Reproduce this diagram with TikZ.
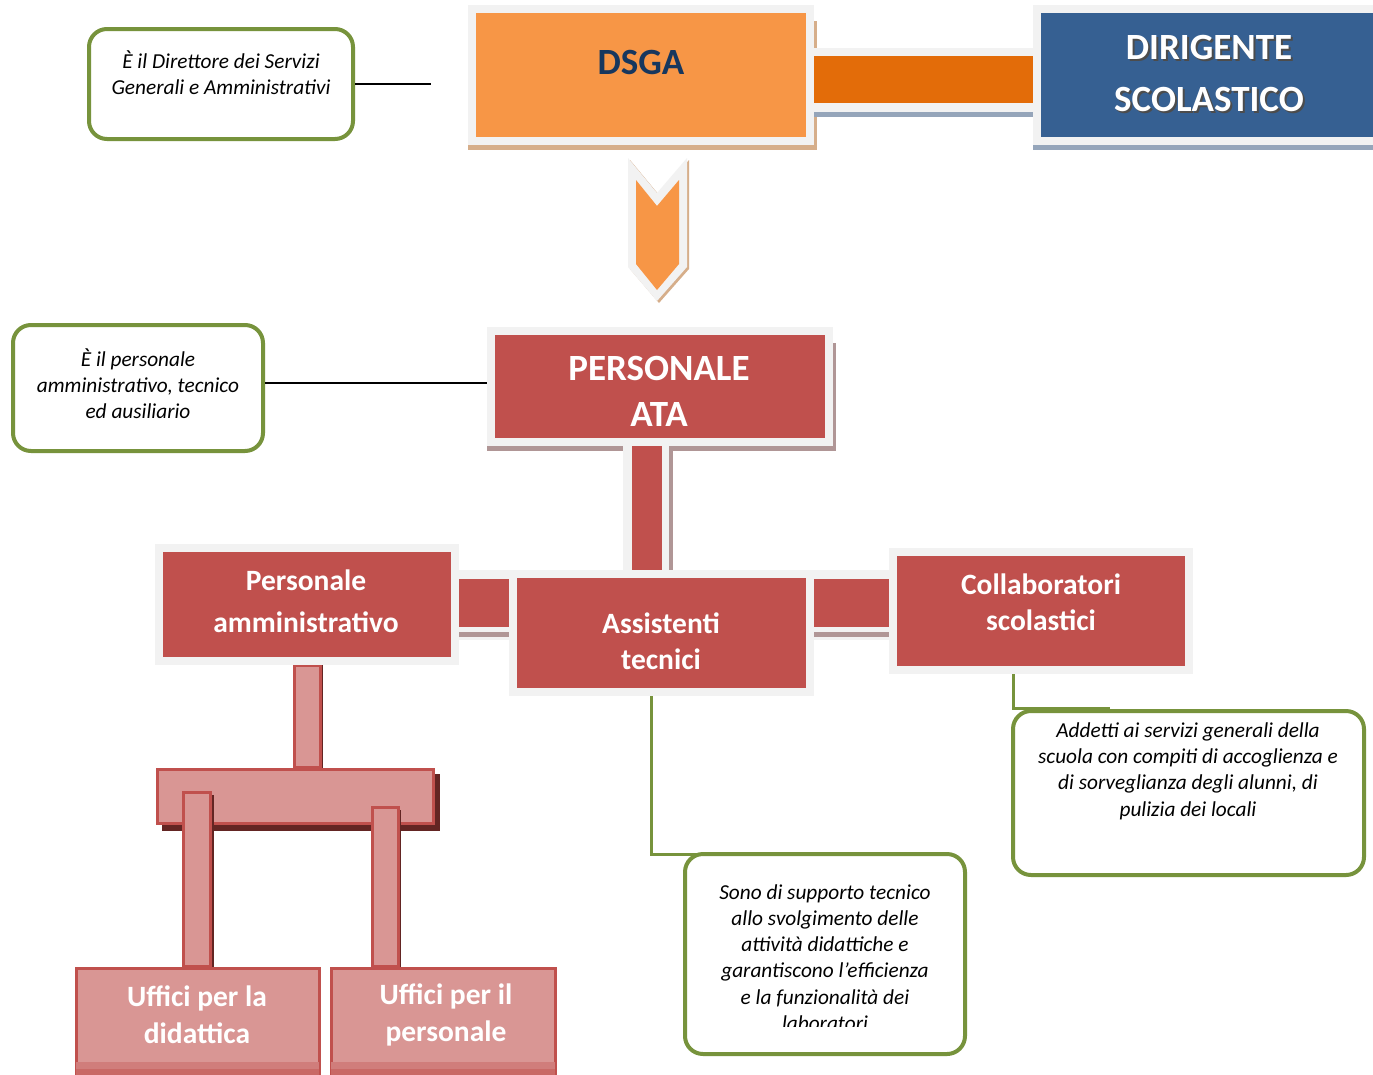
\documentclass[tikz,border=0pt]{standalone}
\usepackage{fontspec}
\setmainfont{Carlito}
\usetikzlibrary{calc}

\newlength{\du}
\setlength{\du}{1pt}

\definecolor{framegray}{RGB}{242,242,242}
\definecolor{dsgaorange}{RGB}{247,150,70}
\definecolor{linkorange}{RGB}{227,108,9}
\definecolor{dirblue}{RGB}{54,96,146}
\definecolor{atared}{RGB}{192,80,77}
\definecolor{officepink}{RGB}{217,150,148}
\definecolor{officedark}{RGB}{99,37,35}
\definecolor{notegreen}{RGB}{119,147,60}
\definecolor{dsganavy}{RGB}{23,55,94}
\definecolor{tanshadow}{RGB}{214,174,138}
\definecolor{blueshadow}{RGB}{149,165,186}
\definecolor{redshadow}{RGB}{176,150,150}

\pgfdeclarelayer{back}
\pgfdeclarelayer{front}
\pgfsetlayers{back,main,front}

\tikzset{
  boxframe/.style={draw=framegray, line width=8\du, inner sep=0pt},
  orangebox/.style={boxframe, fill=dsgaorange},
  bluebox/.style={boxframe, fill=dirblue},
  redbox/.style={boxframe, fill=atared},
  boxlabel/.style={align=center, text=white, inner sep=0pt, font=\fontsize{29.5}{36}\selectfont\bfseries},
  officebar/.style={draw=atared, line width=3\du, fill=officepink},
  note/.style={draw=notegreen, line width=4\du, rounded corners=18\du, fill=white, inner sep=0pt},
  notetext/.style={align=center, inner sep=0pt, font=\fontsize{21.3}{26.3}\selectfont\itshape},
  lead/.style={draw=notegreen, line width=3\du},
  pin/.style={draw=black, line width=1.6\du}
}

\begin{document}
\begin{tikzpicture}
\pgftransformxscale{1.000000}
\pgftransformyscale{-1.000000}
\useasboundingbox (0\du,0\du) rectangle (1373\du,1074\du);

% top row
\node[orangebox, minimum width=338\du, minimum height=132\du] (dsga) at (641\du,75\du) {};
\node[boxlabel, text=dsganavy, font=\fontsize{37}{44}\selectfont\bfseries] (dsgalabel) at (641\du,62\du) {DSGA};
\node[bluebox, minimum width=352\du, minimum height=132\du] (dir) at (1213\du,75\du) {};
\node[boxlabel, text=black!70, font=\fontsize{37}{52}\selectfont\bfseries] (dirshade) at (1211\du,75\du) {DIRIGENTE\\SCOLASTICO};
\node[boxlabel, font=\fontsize{37}{52}\selectfont\bfseries] (dirlabel) at (1209\du,73\du) {DIRIGENTE\\SCOLASTICO};

% chevron
\fill[tanshadow] (630\du,160\du)--(659\du,195\du)--(689\du,160\du)--(689\du,269\du)--(659\du,303\du)--(630\du,269\du)--cycle;
\fill[framegray] (628\du,158\du)--(657\du,193\du)--(687\du,158\du)--(687\du,267\du)--(657\du,301\du)--(628\du,267\du)--cycle;
\fill[dsgaorange] (636\du,180\du)--(657\du,206\du)--(679\du,180\du)--(679\du,264\du)--(657\du,290\du)--(636\du,264\du)--cycle;

% personale ATA
\node[redbox, minimum width=338\du, minimum height=111\du] (ata) at (660\du,386.5\du) {};
\node[boxlabel, font=\fontsize{37}{46}\selectfont\bfseries] (atalabel) at (659\du,391\du) {PERSONALE\\ATA};

% second row
\node[redbox, minimum width=296\du, minimum height=113\du] (pamm) at (307\du,604.5\du) {};
\node[boxlabel, font=\fontsize{29.5}{42}\selectfont\bfseries] (pammlabel) at (306\du,601\du) {Personale\\amministrativo};
\node[redbox, minimum width=297\du, minimum height=118\du] (assist) at (661.5\du,633\du) {};
\node[boxlabel] (assistlabel) at (661\du,641\du) {Assistenti\\tecnici};
\node[redbox, minimum width=296\du, minimum height=118\du] (collab) at (1041\du,611\du) {};
\node[boxlabel] (collablabel) at (1041\du,602\du) {Collaboratori\\scolastici};

% uffici
\node[officebar, minimum width=276\du, minimum height=54\du] (hub) at (295\du,796\du) {};
\begin{pgfonlayer}{front}
\node[officebar, minimum width=243\du, minimum height=117\du] (udid) at (197.5\du,1026.5\du) {};
\node[officebar, minimum width=224\du, minimum height=117\du] (uper) at (443\du,1026.5\du) {};
\fill[atared!35!officepink] ($(udid.south west)+(1.5\du,-25\du)$) rectangle ($(udid.south east)+(-1.5\du,-18\du)$);
\fill[atared!65!officepink] ($(udid.south west)+(1.5\du,-18\du)$) rectangle ($(udid.south east)+(-1.5\du,0)$);
\fill[atared!35!officepink] ($(uper.south west)+(1.5\du,-25\du)$) rectangle ($(uper.south east)+(-1.5\du,-18\du)$);
\fill[atared!65!officepink] ($(uper.south west)+(1.5\du,-18\du)$) rectangle ($(uper.south east)+(-1.5\du,0)$);
\node[boxlabel, font=\fontsize{29.5}{37}\selectfont\bfseries] (udidlabel) at (197\du,1015\du) {Uffici per la\\didattica};
\node[boxlabel, font=\fontsize{29.5}{37}\selectfont\bfseries] (uperlabel) at (446\du,1015\du) {Uffici per il\\personale};
\end{pgfonlayer}
\fill[officedark] ($(udid.north)+(-11\du,0)$) rectangle ($(udid.north |- hub.center)+(16\du,-1\du)$);
\draw[officebar] ($(udid.north)+(-14\du,0)$) rectangle ($(udid.north |- hub.center)+(13\du,-4\du)$);
\fill[officedark] ($(uper.north)+(-68\du,0)$) rectangle ($(uper.north |- hub.center)+(-42\du,14\du)$);
\draw[officebar] ($(uper.north)+(-71\du,0)$) rectangle ($(uper.north |- hub.center)+(-45\du,11\du)$);

% notes
\node[note, minimum width=264\du, minimum height=110\du] (dsganote) at (221\du,84\du) {};
\node[notetext] (dsganotetext) at (221\du,73\du) {È il Direttore dei Servizi\\Generali e Amministrativi};
\coordinate (dsgapin) at (431\du,82\du);
\draw[pin] (dsganote.east) -- (dsganote.east -| dsgapin);

\node[note, minimum width=250\du, minimum height=126\du] (atanote) at (138\du,388\du) {};
\node[notetext] (atanotetext) at (138\du,383.5\du) {È il personale\\amministrativo, tecnico\\ed ausiliario};
\draw[pin] (atanote.east |- 0,383\du) -- (ata.west |- 0,383\du);

\draw[lead] (collab.south -| 1013\du,0) -- (1013\du,708\du) -- (1110\du,708\du);
\node[note, minimum width=351\du, minimum height=164\du] (collabnote) at (1188.5\du,793\du) {};
\node[notetext] (collabnotetext) at (1188\du,771\du) {Addetti ai servizi generali della\\scuola con compiti di accoglienza e\\di sorveglianza degli alunni, di\\pulizia dei locali};

\coordinate (assistbend) at (651\du,854\du);
\draw[lead] (assist.south -| assistbend) -- (assistbend) -- (845\du,854\du);
\node[note, minimum width=280\du, minimum height=200\du] (assistnote) at (825\du,954\du) {};
\begin{scope}
\clip (690\du,860\du) rectangle (960\du,1026\du);
\node[notetext] (assistnotetext) at (825\du,957.5\du) {Sono di supporto tecnico\\allo svolgimento delle\\attività didattiche e\\garantiscono l’efficienza\\e la funzionalità dei\\laboratori};
\end{scope}

\begin{pgfonlayer}{back}
\fill[white] (0\du,0\du) rectangle (1373\du,1074\du);
% shadows
\fill[tanshadow] ($(dsga.north west)+(0,16\du)$) rectangle ($(dsga.south east)+(3\du,5\du)$);
\fill[blueshadow] ($(dir.north west)+(0,16\du)$) rectangle ($(dir.south east)+(3\du,5\du)$);
\fill[redshadow] ($(ata.north west)+(0,16\du)$) rectangle ($(ata.south east)+(3\du,5\du)$);
\fill[officedark] ($(hub.north west)+(6\du,6\du)$) rectangle ($(hub.south east)+(5\du,6\du)$);
% links
\fill[framegray] (dsga.east |- 0,48\du) rectangle (dir.west |- 0,112\du);
\fill[linkorange] (dsga.east |- 0,56\du) rectangle (dir.west |- 0,103\du);
\fill[blueshadow] (dsga.east |- 0,112\du) rectangle (dir.west |- 0,117\du);
\fill[framegray] (ata.south -| 623\du,0) rectangle (assist.north -| 673\du,0);
\fill[atared] (ata.south -| 632\du,0) rectangle (assist.north -| 662\du,0);
\fill[redshadow] (ata.south -| 669\du,0) rectangle (assist.north -| 673\du,0);
\fill[framegray] (pamm.east |- 0,570\du) rectangle (assist.west |- 0,640\du);
\fill[atared] (pamm.east |- 0,579\du) rectangle (assist.west |- 0,627\du);
\fill[redshadow] (pamm.east |- 0,632\du) rectangle (assist.west |- 0,637\du);
\fill[framegray] (assist.east |- 0,570\du) rectangle (collab.west |- 0,640\du);
\fill[atared] (assist.east |- 0,579\du) rectangle (collab.west |- 0,627\du);
\fill[redshadow] (assist.east |- 0,632\du) rectangle (collab.west |- 0,637\du);
% stem
\fill[officedark] ($(pamm.south)+(-10\du,0)$) rectangle ($(pamm.south |- hub.north)+(16\du,0)$);
\draw[officebar] ($(pamm.south)+(-13\du,0)$) rectangle ($(pamm.south |- hub.north)+(13\du,0)$);
\end{pgfonlayer}
\end{tikzpicture}
\end{document}
